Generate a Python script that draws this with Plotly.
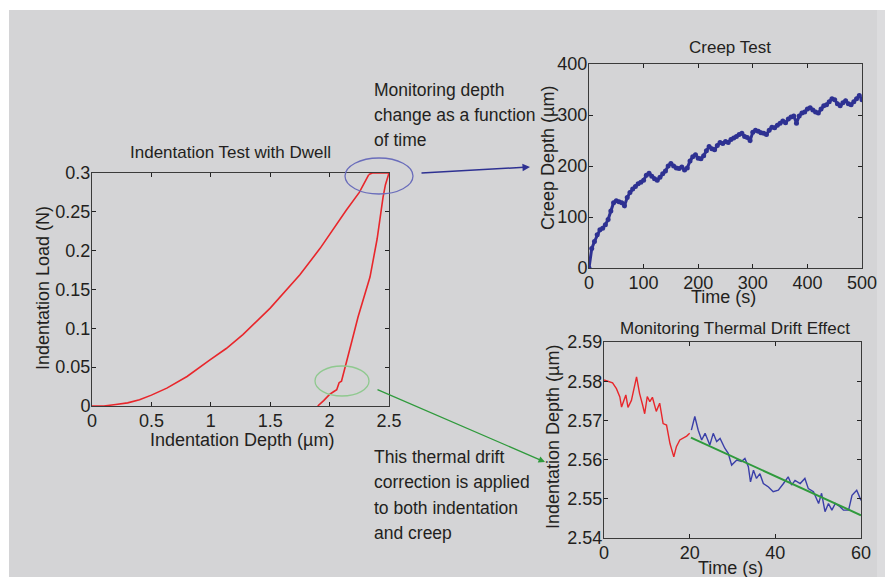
import plotly.graph_objects as go

W, H = 885, 577

# ---------------- data ----------------
load_depth = [0, 0.1, 0.2, 0.3, 0.4, 0.5, 0.63, 0.8, 0.99, 1.13, 1.27, 1.5, 1.75, 1.92, 2.14, 2.25, 2.33]
load_force = [0, 0.0, 0.002, 0.004, 0.008, 0.014, 0.023, 0.038, 0.059, 0.074, 0.092, 0.126, 0.169, 0.203, 0.252, 0.275, 0.298]
dwell_depth = [2.33, 2.36, 2.5]
dwell_force = [0.298, 0.3, 0.3]
unload_depth = [2.5, 2.47, 2.45, 2.40, 2.34, 2.29, 2.24, 2.19, 2.14, 2.12, 2.10, 2.08, 2.06, 2.03, 2.0, 1.95, 1.9]
unload_force = [0.3, 0.285, 0.269, 0.215, 0.166, 0.14, 0.115, 0.085, 0.055, 0.044, 0.032, 0.03, 0.021, 0.018, 0.015, 0.007, 0.0]

creep_time = [0, 5, 10, 15, 20, 25, 30, 35, 40, 45, 50, 55, 60, 65, 70, 75, 80, 85, 90, 95,
              100, 105, 110, 115, 120, 125, 130, 135, 140, 145, 150, 155, 160, 165, 170, 175, 180, 185, 190, 195,
              200, 205, 210, 215, 220, 225, 230, 235, 240, 245, 250, 255, 260, 265, 270, 275, 280, 285, 290, 295,
              300, 305, 310, 315, 320, 325, 330, 335, 340, 345, 350, 355, 360, 365, 370, 375, 380, 385, 390, 395,
              400, 405, 410, 415, 420, 425, 430, 435, 440, 445, 450, 455, 460, 465, 470, 475, 480, 485, 490, 495, 500]
creep_depth = [0, 38, 52, 65, 75, 78, 85, 95, 112, 128, 132, 130, 128, 122, 138, 148, 155, 160, 165, 168,
               172, 182, 186, 180, 175, 172, 178, 185, 190, 200, 205, 200, 196, 195, 198, 192, 196, 210, 218, 222,
               215, 214, 220, 230, 238, 234, 232, 240, 246, 244, 248, 246, 252, 255, 258, 262, 264, 258, 256, 250,
               266, 270, 268, 265, 264, 262, 270, 276, 275, 280, 284, 288, 285, 292, 296, 298, 284, 298, 304, 306,
               312, 314, 310, 306, 304, 312, 318, 320, 326, 332, 330, 322, 318, 324, 328, 322, 320, 326, 332, 338, 330]

drift_t_red = [0, 0.9, 2.0, 2.9, 3.7, 4.1, 4.7, 5.1, 5.6, 6.4, 7.6, 8.3, 9.0, 9.5, 10.1, 10.7, 11.3, 12.2,
               13.0, 13.8, 14.6, 15.4, 16.3, 16.9, 17.7, 18.5, 19.3, 20.0]
drift_d_red = [2.5803, 2.5800, 2.5796, 2.5781, 2.5760, 2.5734, 2.5751, 2.5765, 2.5733, 2.5751, 2.5811, 2.5769,
               2.5740, 2.5717, 2.5761, 2.5748, 2.5759, 2.5723, 2.5744, 2.5692, 2.5688, 2.5641, 2.5607, 2.5633,
               2.5650, 2.5654, 2.5660, 2.5667]
drift_t_blue = [20.4, 21.2, 22.0, 22.8, 23.6, 24.7, 25.5, 26.3, 27.1, 28.2, 29.0, 29.8, 31.0, 32.1, 32.9, 33.7,
                34.2, 34.9, 35.6, 36.4, 37.2, 38.4, 39.5, 40.7, 41.9, 43.0, 43.8, 44.6, 45.8, 46.9, 47.7, 48.9,
                50.1, 50.8, 51.6, 52.4, 53.2, 54.0, 55.1, 55.9, 57.1, 57.9, 59.0, 60.0]
drift_d_blue = [2.5675, 2.5710, 2.5675, 2.5650, 2.5667, 2.5637, 2.5667, 2.5646, 2.5654, 2.5629, 2.5616, 2.5586,
                2.5599, 2.5595, 2.5603, 2.5582, 2.5543, 2.5573, 2.5552, 2.5564, 2.5539, 2.5530, 2.5518, 2.5522,
                2.5539, 2.5556, 2.5535, 2.5547, 2.5539, 2.5552, 2.5526, 2.5518, 2.5488, 2.5514, 2.5467, 2.5488,
                2.5471, 2.5488, 2.5480, 2.5471, 2.5471, 2.5509, 2.5522, 2.5496]
fit_t = [20.3, 60.0]
fit_d = [2.5656, 2.5458]

x1_ticks = [0, 0.5, 1, 1.5, 2, 2.5]
x1_text = ['0', '0.5', '1', '1.5', '2', '2.5']
y1_ticks = [0, 0.05, 0.1, 0.15, 0.2, 0.25, 0.3]
y1_text = ['0', '0.05', '0.1', '0.15', '0.2', '0.25', '0.3']
x2_ticks = [0, 100, 200, 300, 400, 500]
y2_ticks = [0, 100, 200, 300, 400]
x3_ticks = [0, 20, 40, 60]
y3_ticks = [2.54, 2.55, 2.56, 2.57, 2.58, 2.59]
y3_text = ['2.54', '2.55', '2.56', '2.57', '2.58', '2.59']

# ---------------- helpers ----------------
def px(x):
    return x / W

def py(y):
    return 1 - y / H

RED = '#e8262b'
BLUE = '#2e3192'
GREEN = '#2f9a3c'
TXT = '#231f20'
FONT = 'Liberation Sans, Arial, sans-serif'

fig = go.Figure()

fig.add_trace(go.Scatter(x=load_depth, y=load_force, mode='lines', line=dict(color=RED, width=1.6),
                         xaxis='x', yaxis='y', showlegend=False))
fig.add_trace(go.Scatter(x=dwell_depth, y=dwell_force, mode='lines', line=dict(color=RED, width=1.6),
                         xaxis='x', yaxis='y', showlegend=False))
fig.add_trace(go.Scatter(x=unload_depth, y=unload_force, mode='lines', line=dict(color=RED, width=1.6),
                         xaxis='x', yaxis='y', showlegend=False))

fig.add_trace(go.Scatter(x=creep_time, y=creep_depth, mode='lines+markers',
                         line=dict(color=BLUE, width=3),
                         marker=dict(color=BLUE, size=5, line=dict(width=0)),
                         xaxis='x2', yaxis='y2', showlegend=False))

fig.add_trace(go.Scatter(x=drift_t_red, y=drift_d_red, mode='lines', line=dict(color=RED, width=1.4),
                         xaxis='x3', yaxis='y3', showlegend=False))
fig.add_trace(go.Scatter(x=drift_t_blue, y=drift_d_blue, mode='lines', line=dict(color='#3a3fa8', width=1.4),
                         xaxis='x3', yaxis='y3', showlegend=False))
fig.add_trace(go.Scatter(x=fit_t, y=fit_d, mode='lines', line=dict(color=GREEN, width=2),
                         xaxis='x3', yaxis='y3', showlegend=False))

ax_common = dict(showline=True, linecolor='#3a3a3a', linewidth=1, mirror='allticks',
                 ticks='inside', ticklen=4, tickcolor='#222', tickwidth=1,
                 showgrid=False, zeroline=False, fixedrange=True, automargin=False,
                 tickfont=dict(family=FONT, size=18, color=TXT))

fig.update_layout(
    width=W, height=H,
    margin=dict(l=0, r=0, t=0, b=0, pad=0),
    paper_bgcolor='white', plot_bgcolor='white',
    xaxis=dict(domain=[px(92), px(389)], range=[0, 2.5], tickvals=x1_ticks, ticktext=x1_text,
               anchor='y', ticklabelstandoff=-2, **ax_common),
    yaxis=dict(domain=[py(406), py(173)], range=[0, 0.3], tickvals=y1_ticks, ticktext=y1_text,
               anchor='x', ticklabelstandoff=-3, **ax_common),
    xaxis2=dict(domain=[px(589), px(862)], range=[0, 500], tickvals=x2_ticks,
                anchor='y2', ticklabelstandoff=-2, **ax_common),
    yaxis2=dict(domain=[py(268), py(64)], range=[0, 400], tickvals=y2_ticks,
                anchor='x2', ticklabelstandoff=-3, **ax_common),
    xaxis3=dict(domain=[px(604), px(861)], range=[0, 60], tickvals=x3_ticks,
                anchor='y3', ticklabelstandoff=-2, **ax_common),
    yaxis3=dict(domain=[py(538), py(342)], range=[2.54, 2.59], tickvals=y3_ticks, ticktext=y3_text,
                anchor='x3', ticklabelstandoff=-3, **ax_common),
)

shapes = [
    dict(type='rect', xref='paper', yref='paper', x0=px(9), x1=px(877), y0=0, y1=py(10),
         fillcolor='#d4d4d6', line=dict(width=0), layer='below'),
    dict(type='rect', xref='paper', yref='paper', x0=px(877), x1=1, y0=0, y1=py(10),
         fillcolor='#dcdcde', line=dict(width=0), layer='below'),
    dict(type='circle', xref='paper', yref='paper', x0=px(345), x1=px(413), y0=py(194), y1=py(158),
         line=dict(color='#6a6dbb', width=1.3), layer='above'),
    dict(type='circle', xref='paper', yref='paper', x0=px(315), x1=px(369), y0=py(396), y1=py(366),
         line=dict(color='#8fc98f', width=1.3), layer='above'),
]
fig.update_layout(shapes=shapes)

def txt(s, x, y, size=18, angle=0):
    return dict(text=s, x=px(x), y=py(y), xref='paper', yref='paper', showarrow=False,
                xanchor='center', yanchor='middle', textangle=angle,
                font=dict(family=FONT, size=size, color=TXT))

def left(s, x, y, size=17.5):
    return dict(text=s, x=px(x), y=py(y), xref='paper', yref='paper', showarrow=False,
                xanchor='left', yanchor='middle',
                font=dict(family=FONT, size=size, color=TXT))

annotations = [
    txt('Indentation Test with Dwell', 230, 152, 17),
    txt('Indentation Depth (µm)', 242, 440),
    txt('Indentation Load (N)', 43, 288, angle=-90),
    txt('Creep Test', 730, 48, 17),
    txt('Time (s)', 723, 297),
    txt('Creep Depth (µm)', 548, 158, angle=-90),
    txt('Monitoring Thermal Drift Effect', 735, 328, 17),
    txt('Time (s)', 730, 568),
    txt('Indentation Depth (µm)', 553, 437, angle=-90),
    left('Monitoring depth', 372, 90),
    left('change as a function', 372, 115),
    left('of time', 372, 140),
    left('This thermal drift', 372, 457),
    left('correction is applied', 372, 482),
    left('to both indentation', 372, 508),
    left('and creep', 372, 533),
    dict(text='', x=px(530), y=py(167), xref='paper', yref='paper', showarrow=True,
         ax=-110, ay=6, arrowhead=2, arrowsize=1, arrowwidth=1.5, arrowcolor=BLUE),
    dict(text='', x=px(545), y=py(462), xref='paper', yref='paper', showarrow=True,
         ax=-169, ay=-73, arrowhead=2, arrowsize=1, arrowwidth=1.3, arrowcolor=GREEN),
]
fig.update_layout(annotations=annotations)

fig.write_html('out.html',
               post_script="document.body.style.margin='0';document.body.style.overflow='hidden';")
